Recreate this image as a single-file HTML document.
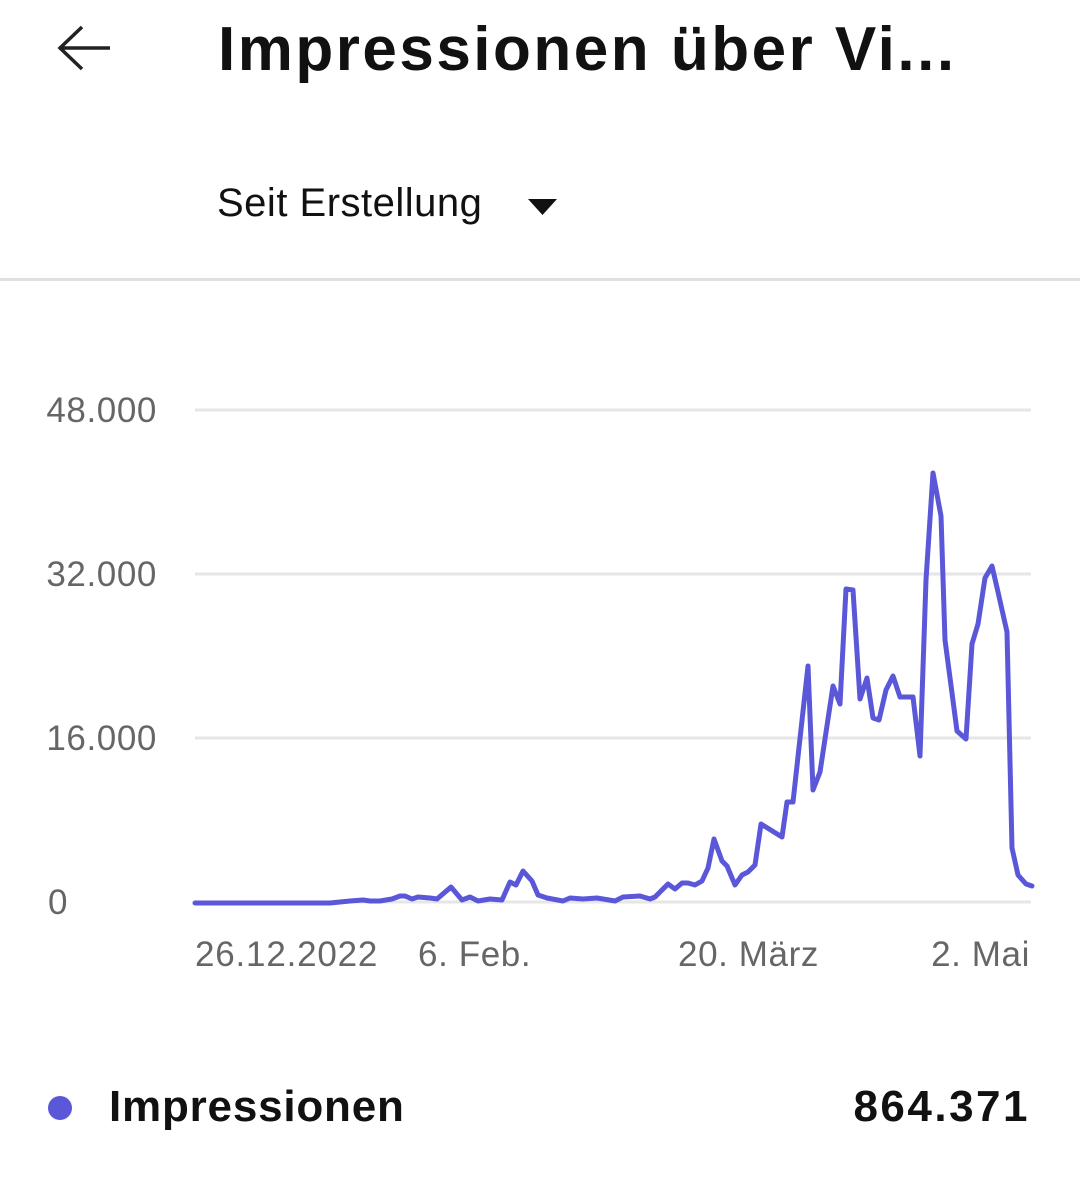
<!DOCTYPE html>
<html><head><meta charset="utf-8"><style>
body{margin:0;width:1080px;height:1186px;background:#fff;font-family:"Liberation Sans",sans-serif;overflow:hidden;position:relative}
.t{position:absolute;white-space:nowrap}
</style></head><body>
<svg width="1080" height="1186" style="position:absolute;left:0;top:0">
<path d="M60 48 L110 48 M82 27 L60 48 L82 69" stroke="#222" stroke-width="3.5" fill="none"/>
<polygon points="528,199 557,199 542.5,215" fill="#111"/>
<rect x="0" y="278" width="1080" height="3" fill="#e0e0e0"/>
<g stroke="#e6e6e6" stroke-width="3">
<line x1="195" y1="410" x2="1031" y2="410"/>
<line x1="195" y1="574" x2="1031" y2="574"/>
<line x1="195" y1="738" x2="1031" y2="738"/>
<line x1="195" y1="902" x2="1031" y2="902"/>
</g>
<g font-family="Liberation Sans,sans-serif" font-size="35" fill="#666" letter-spacing="0.6">
<text x="157" y="422" text-anchor="end">48.000</text>
<text x="157" y="586" text-anchor="end">32.000</text>
<text x="157" y="750" text-anchor="end">16.000</text>
<text x="48" y="914">0</text>
<text x="195" y="966" letter-spacing="0.8">26.12.2022</text>
<text x="418" y="966">6. Feb.</text>
<text x="678" y="966">20. März</text>
<text x="1030" y="966" text-anchor="end">2. Mai</text>
</g>
<polyline fill="none" stroke="#5b57d9" stroke-width="5" stroke-linejoin="round" stroke-linecap="round" points="195,903 330,903 350,901 363,900 370,901 380,901 392,899 400,896 405,896 412,899 418,897 430,898 437,899 451,887 462,900 470,897 478,901 490,899 502,900 510,882 516,885 523,871 532,881 538,895 547,898 563,901 570,898 583,899 597,898 615,901 623,897 640,896 650,899 655,897 662,890 668,884 675,889 682,883 688,883 695,885 702,881 708,868 714,839 722,861 727,866 735,885 742,875 748,872 755,865 761,824 782,837 787,802 793,802 808,666 813,790 820,772 833,686 840,704 846,589 853,590 860,699 867,678 873,718 879,720 886,690 893,676 900,697 913,697 920,756 926,580 933,473 941,516 945,640 957,731 966,739 972,644 978,624 985,578 992,566 998,592 1007,632 1012,848 1018,875 1026,884 1032,886"/>
<circle cx="60" cy="1108" r="12" fill="#5b57d9"/>
</svg>
<div class="t" style="left:218px;top:14px;font-size:62px;font-weight:bold;color:#111;letter-spacing:2.5px">Impressionen über Vi...</div>
<div class="t" style="left:217px;top:181px;font-size:40px;color:#111;letter-spacing:0.5px">Seit Erstellung</div>
<div class="t" style="left:109px;top:1082px;font-size:44px;font-weight:bold;color:#111;letter-spacing:0.8px">Impressionen</div>
<div class="t" style="right:50px;top:1082px;font-size:44px;font-weight:bold;color:#111;letter-spacing:2.5px">864.371</div>
</body></html>
